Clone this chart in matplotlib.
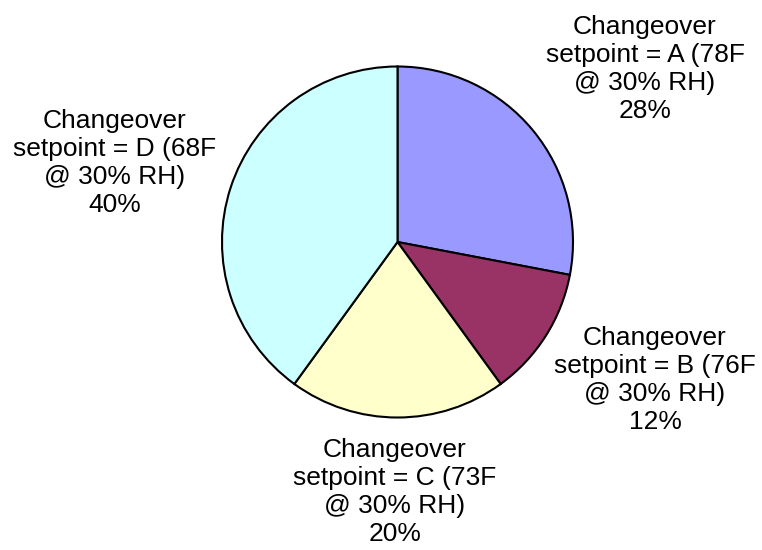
import matplotlib
matplotlib.use("Agg")
import matplotlib.pyplot as plt

categories = ["Changeover\nsetpoint = A (78F\n@ 30% RH)",
              "Changeover\nsetpoint = B (76F\n@ 30% RH)",
              "Changeover\nsetpoint = C (73F\n@ 30% RH)",
              "Changeover\nsetpoint = D (68F\n@ 30% RH)"]
values = [28, 12, 20, 40]
colors = ["#9999FF", "#993366", "#FFFFCC", "#CCFFFF"]

# label centres in pixel coordinates (top-left origin)
label_pos = [(645, 69), (655, 380), (395, 492), (115, 163)]

W, H = 762, 550
fig = plt.figure(figsize=(W / 100, H / 100), dpi=100)
ax = fig.add_axes([0, 0, 1, 1])
ax.set_xlim(0, W)
ax.set_ylim(0, H)
ax.set_aspect("equal")
ax.axis("off")

ax.pie(values, colors=colors, startangle=90, counterclock=False,
       center=(397.5, H - 242), radius=175.5,
       wedgeprops=dict(edgecolor="black", linewidth=1.5))
ax.set_xlim(0, W)
ax.set_ylim(0, H)

for cat, v, (x, y) in zip(categories, values, label_pos):
    ax.text(x, H - y, f"{cat}\n{v}%", ha="center", va="center",
            fontsize=19, family="Liberation Sans", linespacing=1.2)

fig.savefig("out.png", dpi=100)
